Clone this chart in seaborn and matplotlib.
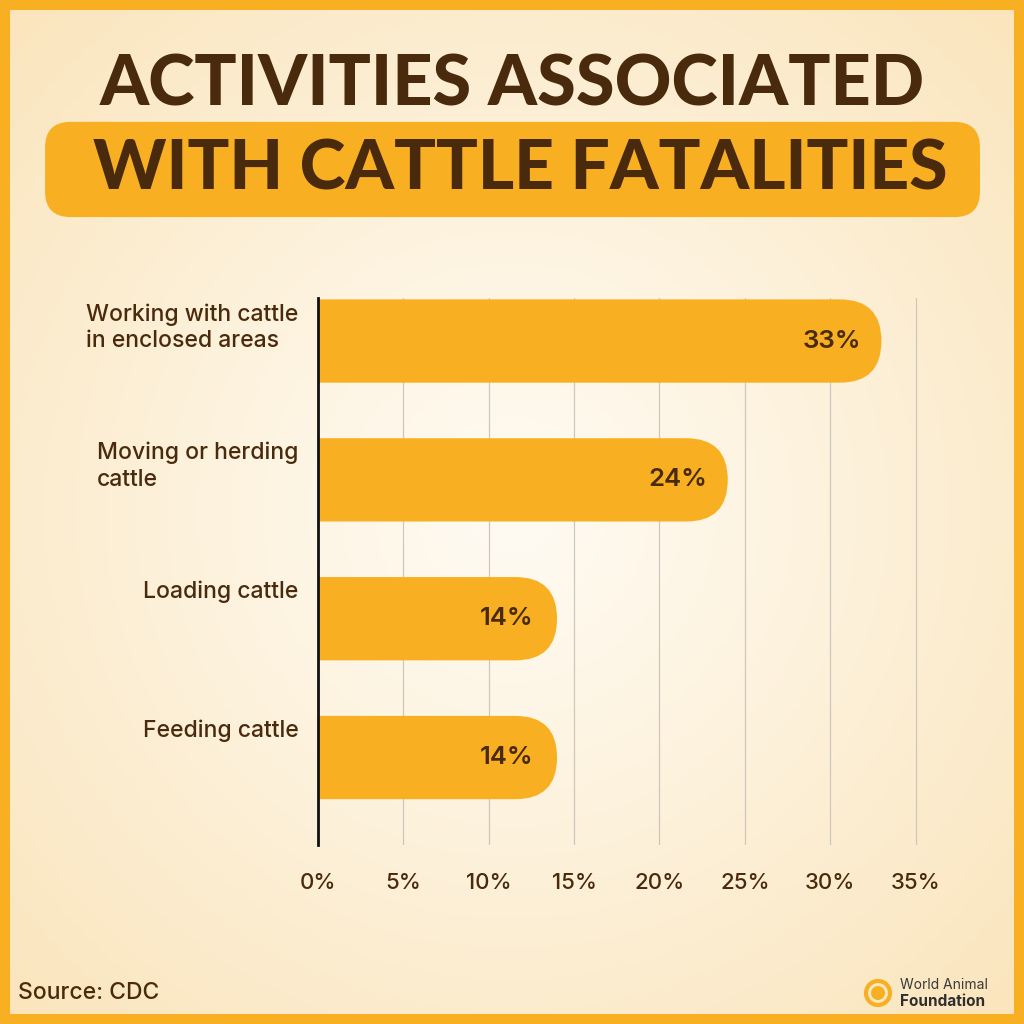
import numpy as np
import pandas as pd
import matplotlib
matplotlib.use("Agg")
import matplotlib.pyplot as plt
import matplotlib.transforms as mtransforms
from matplotlib.patches import FancyBboxPatch, Rectangle, Circle
import seaborn as sns

# ---- data ----
categories = ["Working with cattle\nin enclosed areas", "Moving or herding\ncattle",
              "Loading cattle", "Feeding cattle"]
values = [33, 24, 14, 14]
value_labels = ["33%", "24%", "14%", "14%"]
tick_values = [0, 5, 10, 15, 20, 25, 30, 35]
tick_labels = ["0%", "5%", "10%", "15%", "20%", "25%", "30%", "35%"]
title_line1 = "ACTIVITIES ASSOCIATED"
title_line2 = "WITH CATTLE FATALITIES"
source_text = "Source: CDC"
logo_line1 = "World Animal"
logo_line2 = "Foundation"

ORANGE = "#F8B022"
BROWN = "#4A2A0C"
GRID = "#CFC7BB"

sns.set_theme(style="white")
plt.rcParams['font.family'] = ['Inter', 'DejaVu Sans']

fig = plt.figure(figsize=(10.24, 10.24), dpi=100)

# ---- background ----
bg = fig.add_axes([0, 0, 1, 1], zorder=-10)
yy, xx = np.mgrid[0:1:300j, 0:1:300j]
r = np.sqrt(((xx - 0.5) / 0.72) ** 2 + ((yy - 0.5) / 0.72) ** 2)
t = np.clip(r, 0, 1)[..., None] ** 1.1
c_center = np.array([255, 251, 243]) / 255
c_edge = np.array([250, 228, 186]) / 255
img = c_center * (1 - t) + c_edge * t
bg.imshow(img, extent=[0, 1, 0, 1], aspect='auto', origin='upper')
bg.set_xlim(0, 1)
bg.set_ylim(0, 1)
bg.axis('off')
bg.add_patch(Rectangle((0, 0), 1, 1, fill=False, edgecolor=ORANGE,
                       linewidth=14.4, transform=bg.transAxes, clip_on=True))

# title box
bg.add_patch(FancyBboxPatch((0.044, 0.788), 0.913, 0.093,
                            boxstyle="round,pad=0,rounding_size=0.025",
                            facecolor=ORANGE, edgecolor='none'))
bg.text(0.5, 1 - 85 / 1024, title_line1, ha='center', va='center',
        fontsize=50.5, fontweight='black', color=BROWN, family=['Lato', 'DejaVu Sans'])
bg.text(0.508, 1 - 170 / 1024, title_line2, ha='center', va='center',
        fontsize=50, fontweight='black', color=BROWN, family=['Lato', 'DejaVu Sans'])

# ---- chart ----
ax = fig.add_axes([318 / 1024, 1 - 845 / 1024, (919 - 318) / 1024, (845 - 298) / 1024])
ax.set_facecolor('none')
df = pd.DataFrame({'activity': categories, 'pct': values})
sns.barplot(data=df, x='pct', y='activity', orient='h', color=ORANGE,
            width=0.6, ax=ax, saturation=1)
ax.set_xlim(0, 35.2)
ax.set_ylim(3.63, -0.31)

fig.canvas.draw()
inv = ax.transData.inverted()
p0 = inv.transform((0, 0))
p1 = inv.transform((1, 1))
dx_per_px = abs(p1[0] - p0[0])
dy_per_px = abs(p1[1] - p0[1])

for patch in list(ax.patches):
    x, y = patch.get_x(), patch.get_y()
    w, h = patch.get_width(), patch.get_height()
    patch.remove()
    h_px = h / dy_per_px
    rad_x = (h_px / 2) * dx_per_px
    ax.add_patch(FancyBboxPatch((x - rad_x, y), w + rad_x, h,
                                boxstyle=f"round,pad=0,rounding_size={rad_x}",
                                mutation_aspect=dy_per_px / dx_per_px,
                                facecolor=ORANGE, edgecolor='none', zorder=3))

for i, (v, lab) in enumerate(zip(values, value_labels)):
    ax.annotate(lab, xy=(v, i), xytext=(-50 * 0.72, 0), textcoords='offset points',
                ha='center', va='center', fontsize=18.5, fontweight='semibold',
                color=BROWN, zorder=4)

ax.set_xticks(tick_values, tick_labels)
ax.grid(axis='x', color=GRID, linewidth=0.9, zorder=0)
ax.grid(axis='y', visible=False)
ax.set_axisbelow(True)
ax.tick_params(axis='x', length=0, pad=20, labelsize=16, labelcolor=BROWN)
ax.tick_params(axis='y', length=0, pad=14, labelsize=16.5, labelcolor=BROWN)
for lbl in ax.get_xticklabels():
    lbl.set_fontweight('medium')
offset = mtransforms.ScaledTranslation(0, 38 / 100, fig.dpi_scale_trans)
for lbl in ax.get_yticklabels():
    lbl.set_fontweight('medium')
    lbl.set_multialignment('left')
    lbl.set_verticalalignment('top')
    lbl.set_linespacing(1.28)
    lbl.set_transform(lbl.get_transform() + offset)
ax.set_xlabel('')
ax.set_ylabel('')
for s in ['top', 'right', 'bottom']:
    ax.spines[s].set_visible(False)
ax.spines['left'].set_color('#111111')
ax.spines['left'].set_linewidth(2)
ax.spines['left'].set_zorder(5)

# ---- footer ----
fig.text(18 / 1024, 1 - 993 / 1024, source_text, ha='left', va='center',
         fontsize=16.5, fontweight='medium', color=BROWN)
bg.add_patch(Circle((878 / 1024, 1 - 993 / 1024), 12 / 1024, facecolor='none',
                    edgecolor=ORANGE, linewidth=3))
bg.add_patch(Circle((878 / 1024, 1 - 993 / 1024), 7 / 1024, facecolor=ORANGE,
                    edgecolor='none'))
fig.text(900 / 1024, 1 - 985 / 1024, logo_line1, ha='left', va='center',
         fontsize=10, color='#3a3a3a')
fig.text(900 / 1024, 1 - 1002 / 1024, logo_line2, ha='left', va='center',
         fontsize=11, fontweight='bold', color='#2e2e2e')

fig.savefig('out.png', dpi=100)
